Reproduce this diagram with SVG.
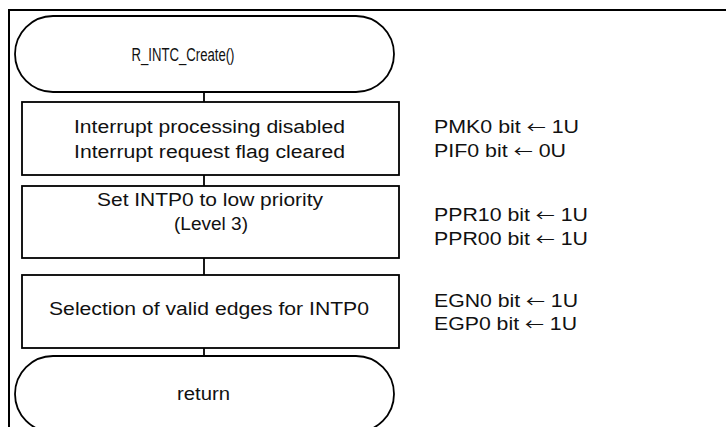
<svg xmlns="http://www.w3.org/2000/svg" width="726" height="427" viewBox="0 0 726 427">
<style>
.shape{fill:#fff;stroke:#000;stroke-width:1.8}
.frame{fill:none;stroke:#000;stroke-width:2}
.conn{stroke:#000;stroke-width:1.8;fill:none}
text{font-family:"Liberation Sans",Arial,"DejaVu Sans",sans-serif;font-size:18px;fill:#111}
.c{text-anchor:middle}
.ar{font-family:"Noto Sans CJK JP","Noto Sans CJK SC",sans-serif;font-size:16px}
</style>
<rect class="frame" x="9" y="10" width="800" height="500"/>
<g id="connectors">
<line class="conn" x1="204" y1="92" x2="204" y2="102"/>
<line class="conn" x1="204" y1="175" x2="204" y2="186"/>
<line class="conn" x1="204" y1="258" x2="204" y2="275"/>
<line class="conn" x1="204" y1="348" x2="204" y2="356"/>
</g>
<g id="start">
<rect class="shape" x="15" y="16" width="379" height="76" rx="38" ry="38"/>
<text class="c" x="183" y="61" textLength="103" lengthAdjust="spacingAndGlyphs">R_INTC_Create()</text>
</g>
<g id="box1">
<rect class="shape" x="22" y="102" width="377" height="73"/>
<text class="c" x="209.5" y="133" textLength="271" lengthAdjust="spacingAndGlyphs">Interrupt processing disabled</text>
<text class="c" x="209.5" y="158" textLength="271" lengthAdjust="spacingAndGlyphs">Interrupt request flag cleared</text>
</g>
<g id="box2">
<rect class="shape" x="22" y="186" width="377" height="72"/>
<text class="c" x="210" y="206" textLength="226" lengthAdjust="spacingAndGlyphs">Set INTP0 to low priority</text>
<text class="c" x="211" y="230" textLength="74" lengthAdjust="spacingAndGlyphs">(Level 3)</text>
</g>
<g id="box3">
<rect class="shape" x="22" y="275" width="377" height="73"/>
<text class="c" x="209" y="315" textLength="320" lengthAdjust="spacingAndGlyphs">Selection of valid edges for INTP0</text>
</g>
<g id="end">
<rect class="shape" x="15" y="356" width="379" height="76" rx="38" ry="38"/>
<text class="c" x="203.5" y="400" textLength="53" lengthAdjust="spacingAndGlyphs">return</text>
</g>
<g id="notes">
<text x="434" y="133" textLength="145" lengthAdjust="spacingAndGlyphs">PMK0 bit <tspan class="ar">←</tspan> 1U</text>
<text x="434" y="157" textLength="132" lengthAdjust="spacingAndGlyphs">PIF0 bit <tspan class="ar">←</tspan> 0U</text>
<text x="434" y="221" textLength="154" lengthAdjust="spacingAndGlyphs">PPR10 bit <tspan class="ar">←</tspan> 1U</text>
<text x="434" y="245" textLength="154" lengthAdjust="spacingAndGlyphs">PPR00 bit <tspan class="ar">←</tspan> 1U</text>
<text x="434" y="307" textLength="144" lengthAdjust="spacingAndGlyphs">EGN0 bit <tspan class="ar">←</tspan> 1U</text>
<text x="434" y="330" textLength="143" lengthAdjust="spacingAndGlyphs">EGP0 bit <tspan class="ar">←</tspan> 1U</text>
</g>
</svg>
